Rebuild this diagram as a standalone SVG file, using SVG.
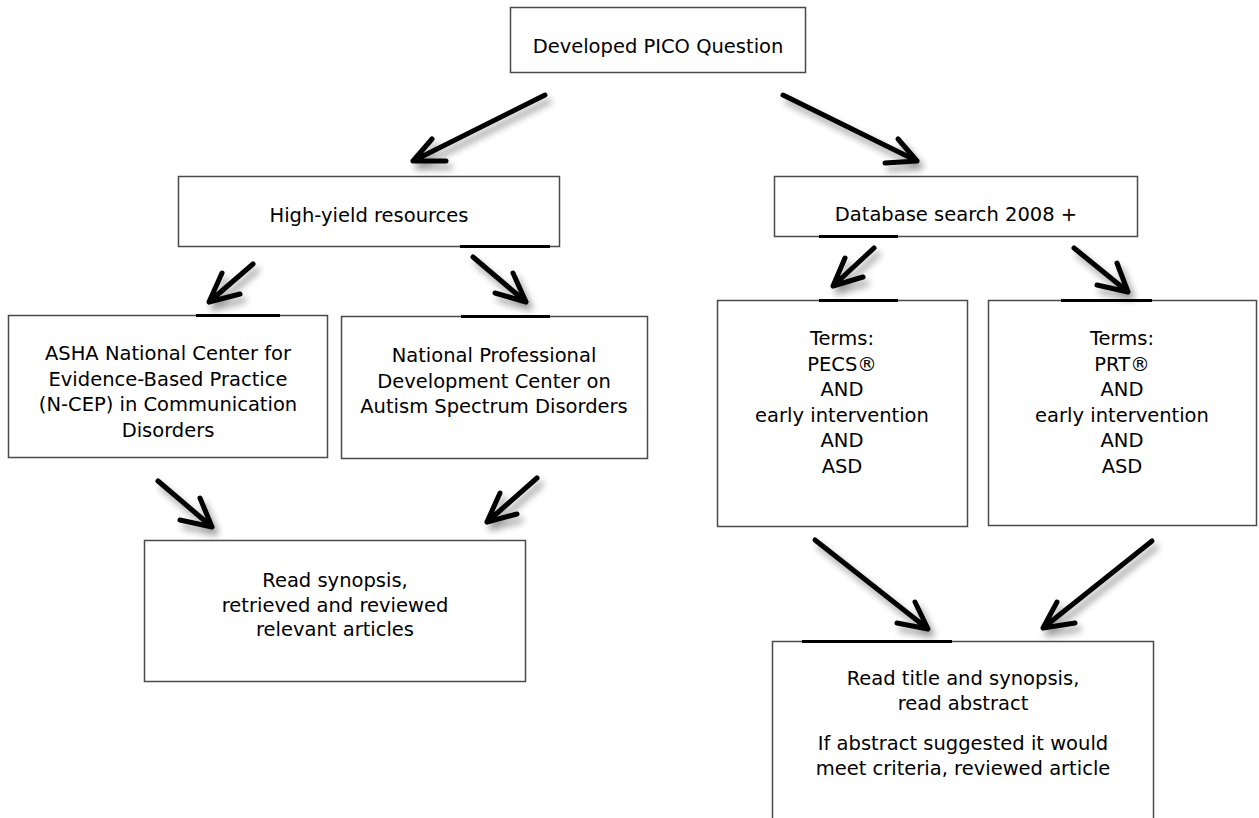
<svg xmlns="http://www.w3.org/2000/svg" width="1259" height="818" viewBox="0 0 1259 818">
<style>
.box{fill:#fff;stroke:#4a4a4a;stroke-width:1.5}
.bar{stroke:#000;stroke-width:3}
.t{font-family:"DejaVu Sans","Liberation Sans",sans-serif;font-size:19.5px;fill:#000;text-anchor:middle}
.arr{fill:none;stroke:#000;stroke-width:5;stroke-linecap:round;stroke-linejoin:round}
</style>
<defs>
<filter id="sh" x="-30%" y="-30%" width="160%" height="160%">
<feGaussianBlur in="SourceAlpha" stdDeviation="3.5"/>
<feOffset dx="4" dy="6" result="b"/>
<feComponentTransfer><feFuncA type="linear" slope="0.4"/></feComponentTransfer>
<feMerge><feMergeNode/><feMergeNode in="SourceGraphic"/></feMerge>
</filter>
</defs>
<rect width="1259" height="818" fill="#fff"/>
<g id="pico">
<rect class="box" x="510.5" y="7.5" width="295" height="65"/>
<text class="t" x="658" y="53">Developed PICO Question</text>
</g>
<g id="highyield">
<rect class="box" x="178.5" y="176.5" width="381" height="70"/>
<line class="bar" x1="460" y1="246.5" x2="550" y2="246.5"/>
<text class="t" x="369" y="222">High-yield resources</text>
</g>
<g id="database">
<rect class="box" x="774.5" y="176.5" width="363" height="60"/>
<line class="bar" x1="819" y1="236.5" x2="898" y2="236.5"/>
<text class="t" x="956" y="221">Database search 2008 +</text>
</g>
<g id="asha">
<rect class="box" x="8.5" y="315.5" width="319" height="142"/>
<line class="bar" x1="196" y1="315.5" x2="280" y2="315.5"/>
<text class="t" x="168" y="360">ASHA National Center for</text>
<text class="t" x="168" y="385.5">Evidence-Based Practice</text>
<text class="t" x="168" y="411">(N-CEP) in Communication</text>
<text class="t" x="168" y="436.5">Disorders</text>
</g>
<g id="npdc">
<rect class="box" x="341.5" y="316.5" width="306" height="142"/>
<line class="bar" x1="461" y1="316.5" x2="550" y2="316.5"/>
<text class="t" x="494" y="362">National Professional</text>
<text class="t" x="494" y="387.5">Development Center on</text>
<text class="t" x="494" y="413">Autism Spectrum Disorders</text>
</g>
<g id="terms-pecs">
<rect class="box" x="717.5" y="300.5" width="250" height="226"/>
<line class="bar" x1="819" y1="300.5" x2="898" y2="300.5"/>
<text class="t" x="842" y="345">Terms:</text>
<text class="t" x="842" y="370.5">PECS®</text>
<text class="t" x="842" y="396">AND</text>
<text class="t" x="842" y="421.5">early intervention</text>
<text class="t" x="842" y="447">AND</text>
<text class="t" x="842" y="472.5">ASD</text>
</g>
<g id="terms-prt">
<rect class="box" x="988.5" y="300.5" width="268" height="225"/>
<line class="bar" x1="1061" y1="300.5" x2="1152" y2="300.5"/>
<text class="t" x="1122" y="345">Terms:</text>
<text class="t" x="1122" y="370.5">PRT®</text>
<text class="t" x="1122" y="396">AND</text>
<text class="t" x="1122" y="421.5">early intervention</text>
<text class="t" x="1122" y="447">AND</text>
<text class="t" x="1122" y="472.5">ASD</text>
</g>
<g id="synopsis">
<rect class="box" x="144.5" y="540.5" width="381" height="141"/>
<text class="t" x="335" y="587">Read synopsis,</text>
<text class="t" x="335" y="611.5">retrieved and reviewed</text>
<text class="t" x="335" y="636">relevant articles</text>
</g>
<g id="title-abstract">
<rect class="box" x="772.5" y="641.5" width="381" height="190"/>
<line class="bar" x1="802" y1="641.5" x2="952" y2="641.5"/>
<text class="t" x="963" y="685">Read title and synopsis,</text>
<text class="t" x="963" y="710">read abstract</text>
<text class="t" x="963" y="750">If abstract suggested it would</text>
<text class="t" x="963" y="775">meet criteria, reviewed article</text>
</g>
<g id="connectors" filter="url(#sh)">
<path class="arr" d="M545 95 L413 161 M446 161 L413 161 L432 139"/>
<path class="arr" d="M783 95 L917 161 M885 163 L917 161 L898 139"/>
<path class="arr" d="M253 264 L209 302 M240 294 L209 302 L222 273"/>
<path class="arr" d="M473 257 L526 302 M495 293 L526 302 L513 273"/>
<path class="arr" d="M874 248 L833 286 M863 277 L833 286 L845 258"/>
<path class="arr" d="M1074 248 L1128 292 M1097 285 L1128 292 L1117 263"/>
<path class="arr" d="M158 481 L212 527 M180 520 L212 527 L200 498"/>
<path class="arr" d="M537 478 L487 522 M517 514 L487 522 L500 493"/>
<path class="arr" d="M815 540 L928 629 M897 623 L928 629 L915 602"/>
<path class="arr" d="M1152 541 L1043 628 M1075 623 L1043 628 L1057 602"/>
</g>
</svg>
